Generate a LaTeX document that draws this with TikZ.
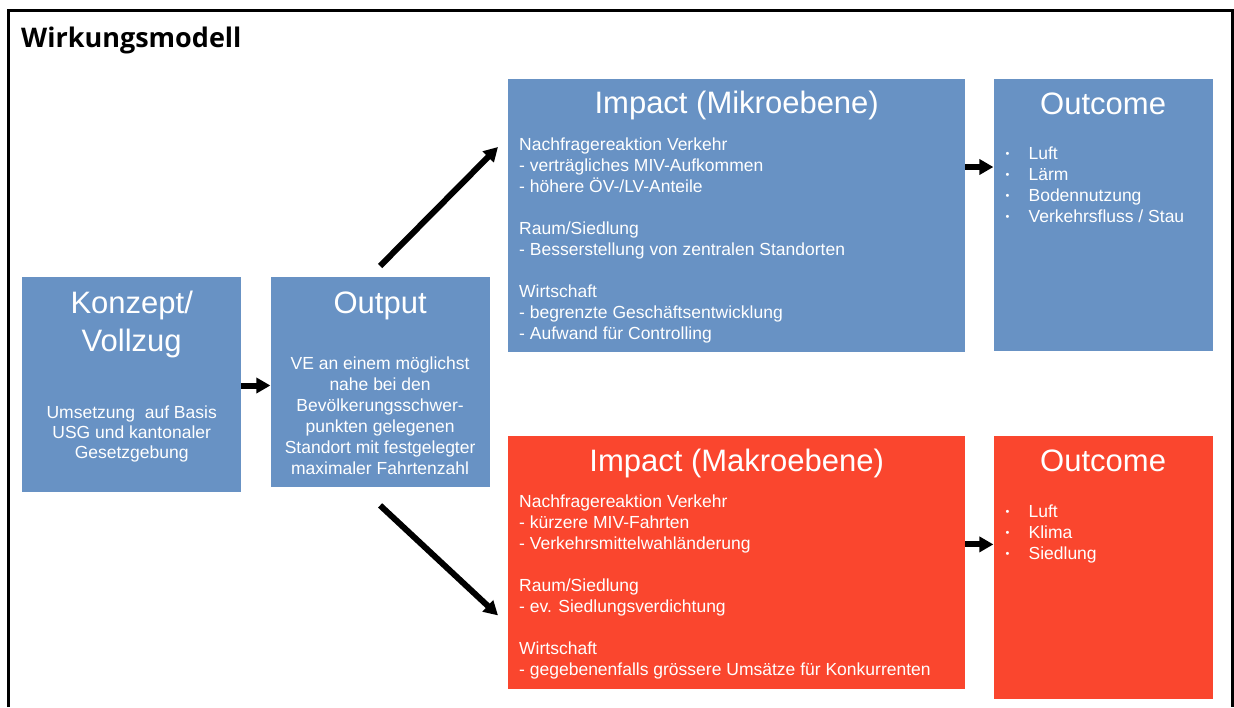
\documentclass[tikz,border=0pt]{standalone}
\usepackage{fontspec}
\setmainfont{Liberation Sans}
\newfontfamily\headfont{Open Sans}
\usepackage{xcolor}
\usepackage{tikz}
\usetikzlibrary{arrows.meta,positioning}
\definecolor{wmblue}{RGB}{104,146,196}
\definecolor{wmred}{RGB}{250,70,46}
\newcommand{\outitem}[1]{\makebox[23pt][l]{\raisebox{1.5pt}{\fontsize{11}{11}\selectfont\textbullet}}#1}
\tikzset{
  bluebox/.style={rectangle, fill=wmblue, inner sep=0pt, anchor=north west},
  redbox/.style={bluebox, fill=wmred},
  boxtitle/.style={text=white, font=\fontsize{31}{38}\selectfont, inner sep=0pt,
    anchor=base, align=center},
  boxtext/.style={text=white, font=\fontsize{17.5}{21}\selectfont, inner sep=0pt,
    anchor=base west, align=left},
  flowarrow/.style={-{Triangle[length=14pt,width=15pt]}, line width=6pt, black},
  frameline/.style={line width=3pt, black},
}

\begin{document}
\begin{tikzpicture}[x=1pt, y=-1pt]
\useasboundingbox (0,0) rectangle (1234,707);
\draw[frameline] (8.5,707) -- (8.5,10.5) -- (1232.5,10.5) -- (1232.5,707);
\node[anchor=base west, inner sep=0pt, font=\headfont\bfseries\fontsize{27}{32}\selectfont] (title) at (21,47) {Wirkungsmodell};

% boxes
\node[bluebox, minimum width=219pt, minimum height=215pt] (konzept) at (22,277) {};
\node[bluebox, minimum width=219pt, minimum height=210pt, right=29pt of konzept.north east, anchor=north west] (output) {};
\node[bluebox, minimum width=457pt, minimum height=273pt] (mikro) at (508,79) {};
\node[bluebox, minimum width=219pt, minimum height=272pt, right=28pt of mikro.north east, anchor=north west] (outmikro) {};
\node[redbox, minimum width=457pt, minimum height=253pt, below=83pt of mikro.south west, anchor=north west] (makro) {};
\node[redbox, minimum width=219pt, minimum height=263pt, right=28pt of makro.north east, anchor=north west] (outmakro) {};

% titles (base = last line)
\node[boxtitle] (konzepttitle) at ([yshift=-74pt]konzept.north) {Konzept/\\Vollzug};
\node[boxtitle] (outputtitle) at ([yshift=-36pt]output.north) {Output};
\node[boxtitle] (mikrotitle) at ([yshift=-34pt]mikro.north) {Impact (Mikroebene)};
\node[boxtitle] (outmikrotitle) at ([yshift=-35pt]outmikro.north) {Outcome};
\node[boxtitle] (makrotitle) at ([yshift=-36pt]makro.north) {Impact (Makroebene)};
\node[boxtitle] (outmakrotitle) at ([yshift=-36pt]outmakro.north) {Outcome};

% texts (base = last line)
\node[boxtext, anchor=base, align=center, font=\fontsize{17.5}{20}\selectfont] (konzepttext) at ([yshift=-181pt]konzept.north)
  {Umsetzung~ auf Basis\\USG und kantonaler\\Gesetzgebung};
\node[boxtext, anchor=base, align=center] (outputtext) at ([yshift=-197pt]output.north)
  {VE an einem möglichst\\nahe bei den\\Bevölkerungsschwer-\\punkten gelegenen\\Standort mit festgelegter\\maximaler Fahrtenzahl};
\node[boxtext] (mikrotext) at ([shift={(11pt,-260pt)}]mikro.north west)
  {Nachfragereaktion Verkehr\\- verträgliches MIV-Aufkommen\\- höhere ÖV-/LV-Anteile\\[21pt]
   Raum/Siedlung\\- Besserstellung von zentralen Standorten\\[21pt]
   Wirtschaft\\- begrenzte Geschäftsentwicklung\\- Aufwand für Controlling};
\node[boxtext] (makrotext) at ([shift={(11pt,-240pt)}]makro.north west)
  {Nachfragereaktion Verkehr\\- kürzere MIV-Fahrten\\- Verkehrsmittelwahländerung\\[21pt]
   Raum/Siedlung\\- ev. Siedlungsverdichtung\\[21pt]
   Wirtschaft\\- gegebenenfalls grössere Umsätze für Konkurrenten};
\node[boxtext] (outmikrotext) at ([shift={(12pt,-143pt)}]outmikro.north west)
  {\outitem{Luft}\\\outitem{Lärm}\\\outitem{Bodennutzung}\\\outitem{Verkehrsfluss / Stau}};
\node[boxtext] (outmakrotext) at ([shift={(12pt,-124pt)}]outmakro.north west)
  {\outitem{Luft}\\\outitem{Klima}\\\outitem{Siedlung}};

% arrows
\draw[flowarrow] ([yshift=-108.5pt]konzept.north east) -- ([yshift=-108.5pt]output.north west);
\draw[flowarrow] ([yshift=11pt]output.north) -- ([shift={(-10pt,-68pt)}]mikro.north west);
\draw[flowarrow] ([yshift=-18pt]output.south) -- ([shift={(-10pt,-180pt)}]makro.north west);
\draw[flowarrow] ([yshift=-88pt]mikro.north east) -- ([yshift=-88pt]outmikro.north west);
\draw[flowarrow] ([yshift=-109pt]makro.north east) -- ([yshift=-109pt]outmakro.north west);
\end{tikzpicture}
\end{document}
